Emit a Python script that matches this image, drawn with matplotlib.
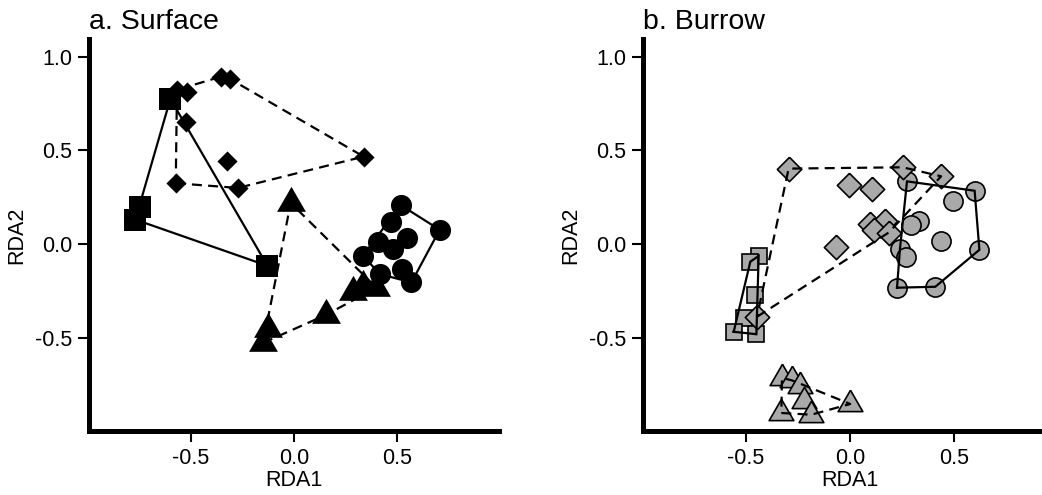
import numpy as np
import matplotlib
matplotlib.use("Agg")
import matplotlib.pyplot as plt

plt.rcParams["font.family"] = ["Liberation Sans", "DejaVu Sans"]

# ---- RDA site scores, surface samples ----
surf_sq_x = [-0.60, -0.749, -0.77, -0.129]
surf_sq_y = [0.775, 0.196, 0.131, -0.115]
surf_ci_x = [0.517, 0.470, 0.707, 0.550, 0.408, 0.481, 0.335, 0.526, 0.416, 0.570]
surf_ci_y = [0.209, 0.116, 0.077, 0.031, 0.010, -0.026, -0.061, -0.132, -0.159, -0.204]
surf_tr_x = [-0.016, -0.125, -0.150, 0.157, 0.286, 0.335, 0.400]
surf_tr_y = [0.220, -0.451, -0.526, -0.376, -0.256, -0.225, -0.232]
surf_di_x = [-0.568, -0.517, -0.352, -0.312, -0.522, -0.325, -0.574, -0.272, 0.338]
surf_di_y = [0.823, 0.810, 0.894, 0.882, 0.650, 0.442, 0.325, 0.300, 0.467]

# ---- RDA site scores, burrow samples ----
bur_sq_x = [-0.439, -0.479, -0.455, -0.511, -0.559, -0.450]
bur_sq_y = [-0.063, -0.093, -0.271, -0.396, -0.467, -0.480]
bur_ci_x = [0.274, 0.599, 0.495, 0.330, 0.295, 0.438, 0.240, 0.271, 0.622, 0.226, 0.410]
bur_ci_y = [0.335, 0.285, 0.232, 0.121, 0.103, 0.018, -0.027, -0.066, -0.030, -0.232, -0.227]
bur_tr_x = [-0.327, -0.279, -0.239, -0.223, -0.330, -0.186, 0.001]
bur_tr_y = [-0.713, -0.726, -0.756, -0.834, -0.900, -0.909, -0.852]
bur_di_x = [-0.295, -0.006, 0.106, 0.253, 0.438, 0.095, 0.167, 0.114, 0.186, -0.067, -0.447]
bur_di_y = [0.403, 0.317, 0.294, 0.410, 0.362, 0.109, 0.121, 0.076, 0.062, -0.016, -0.387]

x_ticks = [-0.5, 0.0, 0.5]
y_ticks = [-0.5, 0.0, 0.5, 1.0]
tick_labels_x = ["-0.5", "0.0", "0.5"]
tick_labels_y = ["-0.5", "0.0", "0.5", "1.0"]

# equilateral triangle centred on its centroid, and a plain diamond
TRI = [(0.0, 1.0), (-0.866, -0.5), (0.866, -0.5), (0.0, 1.0)]
DIA = [(0, 1), (1, 0), (0, -1), (-1, 0), (0, 1)]


def convex_hull(xs, ys):
    pts = sorted(set(zip(xs, ys)))
    if len(pts) < 3:
        return pts

    def cross(o, a, b):
        return (a[0] - o[0]) * (b[1] - o[1]) - (a[1] - o[1]) * (b[0] - o[0])

    lower, upper = [], []
    for p in pts:
        while len(lower) >= 2 and cross(lower[-2], lower[-1], p) <= 0:
            lower.pop()
        lower.append(p)
    for p in reversed(pts):
        while len(upper) >= 2 and cross(upper[-2], upper[-1], p) <= 0:
            upper.pop()
        upper.append(p)
    hull = lower[:-1] + upper[:-1]
    return hull + [hull[0]]


def draw_hull(ax, xs, ys, dashed):
    h = convex_hull(xs, ys)
    hx, hy = zip(*h)
    ln, = ax.plot(hx, hy, color="black", lw=1.6, zorder=5,
                  solid_joinstyle="miter", dash_capstyle="butt")
    if dashed:
        ln.set_dashes((4.5, 2.8))


def style_axes(ax, title):
    ax.set_xlim(-0.995, 0.995)
    ax.set_ylim(-0.996, 1.094)
    for s in ("top", "right"):
        ax.spines[s].set_visible(False)
    for s in ("left", "bottom"):
        ax.spines[s].set_linewidth(3.6)
        ax.spines[s].set_capstyle("projecting")
    ax.set_xticks(x_ticks)
    ax.set_xticklabels(tick_labels_x)
    ax.set_yticks(y_ticks)
    ax.set_yticklabels(tick_labels_y)
    ax.tick_params(axis="both", length=8, width=1.5, labelsize=15.5,
                   direction="out", pad=4, color="black")
    ax.set_xlabel("RDA1", fontsize=15.5, labelpad=1)
    ax.set_ylabel("RDA2", fontsize=15.5, labelpad=6)
    ax.text(0.0, 1.01, title, transform=ax.transAxes, ha="left",
            va="bottom", fontsize=20.5)


fig = plt.figure(figsize=(10.42, 4.95), dpi=100)
W, H = 1042.0, 495.0
ax1 = fig.add_axes([89 / W, 1 - 431 / H, 410 / W, 392 / H])
ax2 = fig.add_axes([643 / W, 1 - 431 / H, 414 / W, 392 / H])

# surface: solid black symbols
ax1.plot(surf_sq_x, surf_sq_y, ls="none", marker="s", ms=15.6, mfc="black",
         mec="black", mew=0, zorder=3)
ax1.plot(surf_ci_x, surf_ci_y, ls="none", marker="o", ms=15.2, mfc="black",
         mec="black", mew=0, zorder=3)
ax1.plot(surf_tr_x, surf_tr_y, ls="none", marker=TRI, ms=24, mfc="black",
         mec="black", mew=0, zorder=3)
ax1.plot(surf_di_x, surf_di_y, ls="none", marker=DIA, ms=14.5, mfc="black",
         mec="black", mew=0, zorder=3)
draw_hull(ax1, surf_sq_x, surf_sq_y, dashed=False)
draw_hull(ax1, surf_ci_x, surf_ci_y, dashed=False)
draw_hull(ax1, surf_tr_x, surf_tr_y, dashed=True)
draw_hull(ax1, surf_di_x, surf_di_y, dashed=True)
style_axes(ax1, "a. Surface")

# burrow: grey symbols with black outline
GREY = "#A9A9A9"
ax2.plot(bur_sq_x, bur_sq_y, ls="none", marker="s", ms=12.2, mfc=GREY,
         mec="black", mew=1.2, zorder=3)
ax2.plot(bur_ci_x, bur_ci_y, ls="none", marker="o", ms=13.8, mfc=GREY,
         mec="black", mew=1.2, zorder=3)
ax2.plot(bur_tr_x, bur_tr_y, ls="none", marker=TRI, ms=20.5, mfc=GREY,
         mec="black", mew=1.2, zorder=3)
ax2.plot(bur_di_x, bur_di_y, ls="none", marker=DIA, ms=17.5, mfc=GREY,
         mec="black", mew=1.2, zorder=3)
draw_hull(ax2, bur_sq_x, bur_sq_y, dashed=False)
draw_hull(ax2, bur_ci_x, bur_ci_y, dashed=False)
draw_hull(ax2, bur_tr_x, bur_tr_y, dashed=True)
draw_hull(ax2, bur_di_x, bur_di_y, dashed=True)
style_axes(ax2, "b. Burrow")

fig.savefig("out.png", dpi=100)
